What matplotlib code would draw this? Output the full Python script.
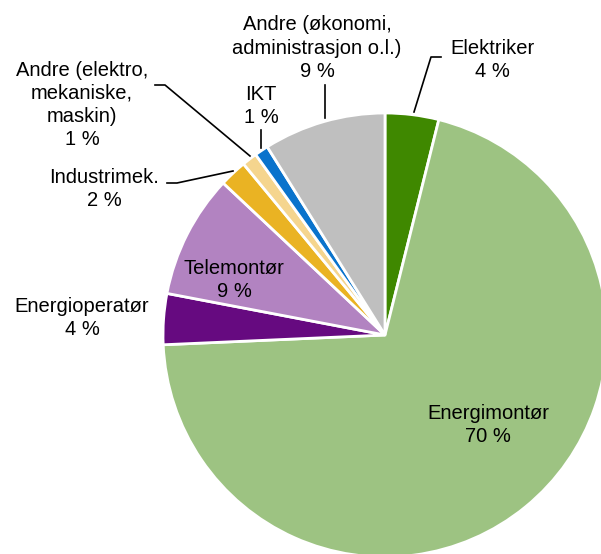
import matplotlib
matplotlib.use("Agg")
from matplotlib import pyplot as plt

plt.rcParams['font.family'] = ['Liberation Sans', 'DejaVu Sans']

# shares (percent), clockwise from 12 o'clock
categories = ['Elektriker', 'Energimontør', 'Energioperatør', 'Telemontør',
              'Industrimek.', 'Andre (elektro,\nmekaniske,\nmaskin)', 'IKT',
              'Andre (økonomi,\nadministrasjon o.l.)']
shares = [3.9, 70.4, 3.7, 9.0, 2.0, 1.1, 1.0, 8.9]
colors = ['#3f8800', '#9dc382', '#660a80', '#b283c1',
          '#eab323', '#f5d58e', '#0a73cc', '#bfbfbf']

W, H = 601, 554


def py(y):
    # pixel row -> data y
    return H - y


fig = plt.figure(figsize=(W / 100, H / 100), dpi=100)
ax = fig.add_axes([0, 0, 1, 1])

ax.pie(shares, colors=colors, startangle=90, counterclock=False,
       center=(385, py(335)), radius=222,
       wedgeprops=dict(edgecolor='white', linewidth=2))

# label positions (pixel coords of the text centre)
label_pos = [(492, 60), (488, 425), (82, 318), (234, 280),
             (104, 189), (82, 105), (261, 106), (317, 48)]

for name, val, (x, y) in zip(categories, shares, label_pos):
    ax.text(x, py(y), f"{name}\n{round(val)} %", ha='center', va='center',
            fontsize=14.5, linespacing=1.28, color='black')

# leader lines
leaders = [
    [(441, 57), (431, 57), (414, 112)],
    [(325, 85), (325, 118)],
    [(261, 130), (261, 148)],
    [(155, 85), (165, 85), (250, 156)],
    [(167, 183), (177, 183), (233, 171)],
]
for pts in leaders:
    ax.plot([p[0] for p in pts], [py(p[1]) for p in pts], color='black', lw=1.2)

ax.set_xlim(0, W)
ax.set_ylim(0, H)
ax.set_aspect('equal')
ax.axis('off')

fig.savefig('out.png', dpi=100, facecolor='white')
